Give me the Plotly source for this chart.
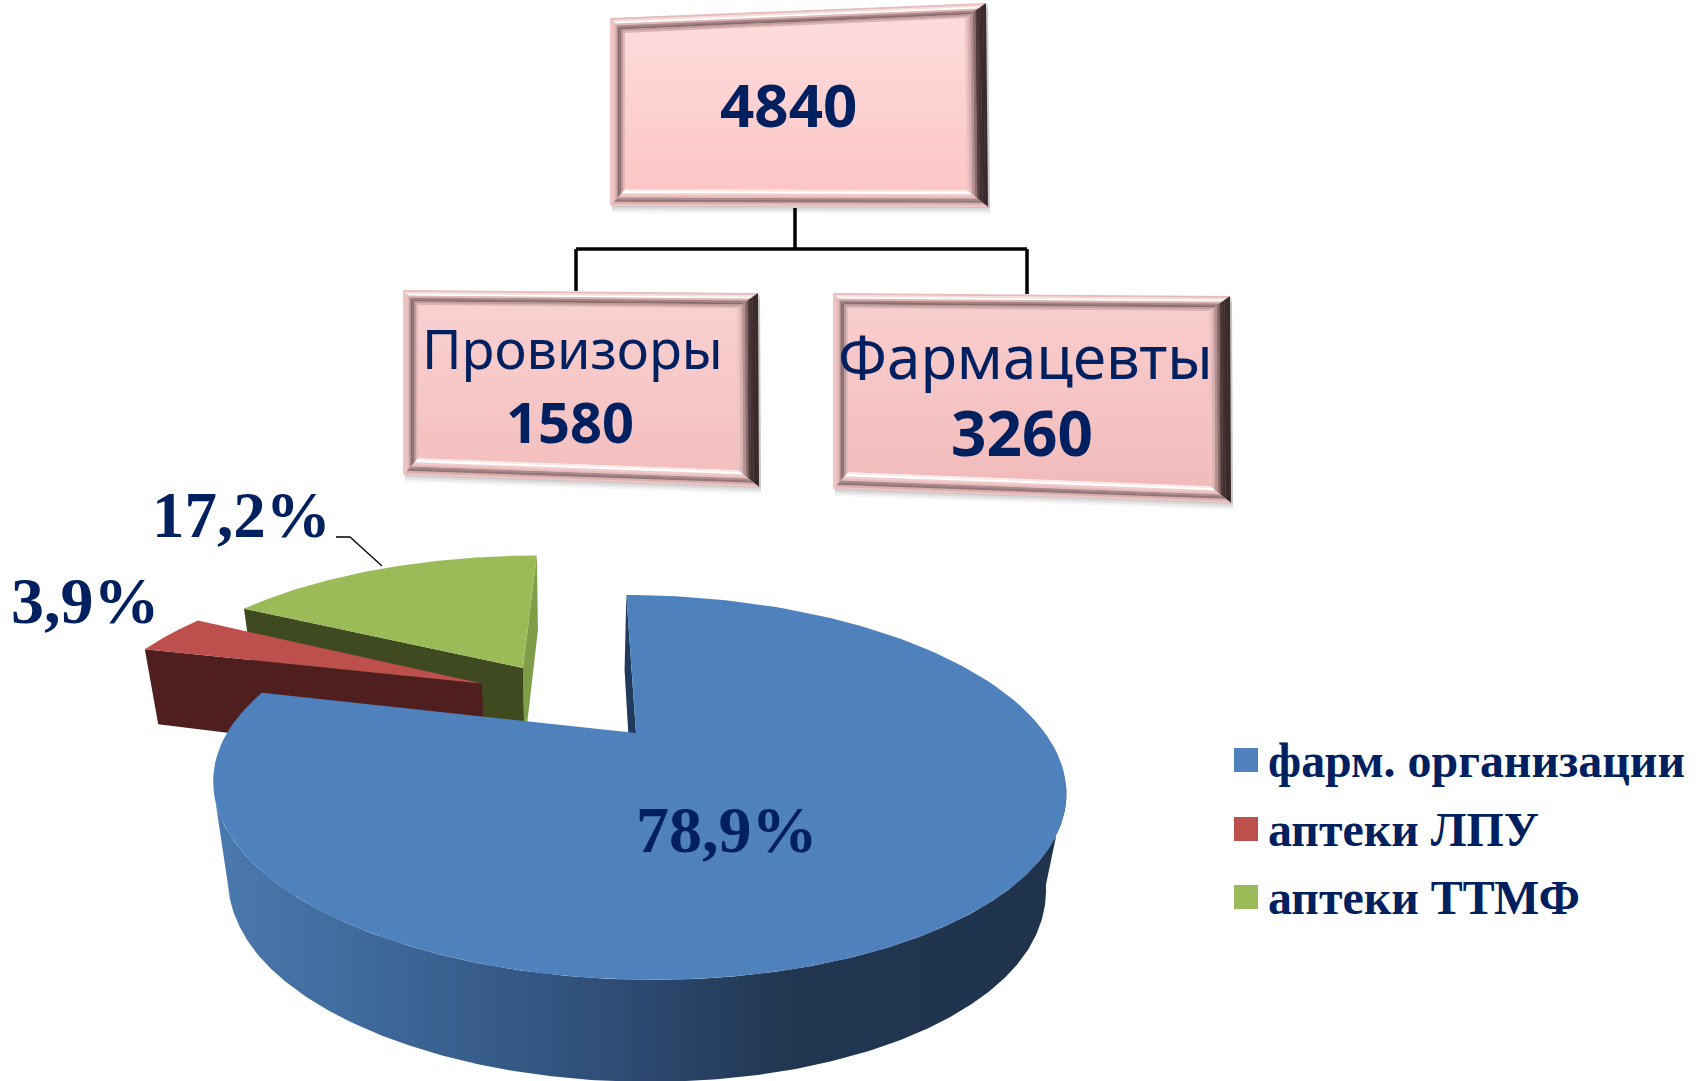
import numpy as np
import plotly.graph_objects as go

# ---------- data ----------
categories = ["фарм. организации", "аптеки ЛПУ", "аптеки ТТМФ"]
shares = [78.9, 3.9, 17.2]
share_labels = ["78,9%", "3,9%", "17,2%"]
total_label = "4840"
group_names = ["Провизоры", "Фармацевты"]
group_values = ["1580", "3260"]

# ---------- style ----------
W, H = 1703, 1081
NAVY = "#002060"
TOP = ["#4f81bd", "#bd4f4c", "#9bbb59"]
FACE_START = ["#1f3a5c", None, "#7f9c48"]
FACE_END = [None, "#4f1f1f", "#404a21"]
OFFSET = [(0.0, 0.0), (-0.40, 0.304), (-0.296, 0.41)]
RADIUS = [1.0, 1.0, 0.99]
X0, Y0, A, B, P, SK = 636.0, 733.0, 409.0, 177.0, 0.283, 0.07
XV = 570.0
LEGEND_Y = [760, 829, 897]


def project(u, v):
    u, v = np.asarray(u, float), np.asarray(v, float)
    w = 1 / (1 + P * v)
    y = Y0 - B * v * w
    return X0 + A * u * w + SK * (y - Y0), y


def drop(x, y):
    d = np.interp(y, [649, 790, 850, 978], [75, 98, 101, 102])
    return x + (XV - x) * 0.00042 * d, y + d


def poly(x, y, color, **kw):
    return go.Scatter(x=list(x), y=list(y), mode="lines", fill="toself", fillcolor=color,
                      line=dict(width=0), hoverinfo="skip", showlegend=False, **kw)


fig = go.Figure()

# ---------- boxes ----------
BOXES = [
    ((610, 18), (986, 3), (988, 207), (610, 206), "#fedcdc", "#fcc6c6"),
    ((403, 290), (758, 293), (759, 487), (403, 475), "#f9d0d0", "#f4bfbf"),
    ((833, 293), (1230, 296), (1231, 503), (833, 489), "#f9cdcd", "#f2bbbb"),
]
BEVEL = 15
SIDE_STOPS = {
    "top": ["#e6bcbc", "#f6dede", "#ffffff", "#e0b8b8", "#a98484", "#8a6a6a", "#c09a9a", "#dcb2b2"],
    "right": ["#3a2a2b", "#3a2a2b", "#433132", "#4f3b3c", "#8b6c6c", "#b59090", "#dab0b0", "#ecc2c2"],
    "bottom": ["#eec4c4", "#d9b0b0", "#95757a", "#a98888", "#e8bcbc", "#f2cccc", "#ffffff", "#ffeaea"],
    "left": ["#efc5c5", "#efc5c5", "#e6bcbc", "#d0a8a8", "#8a6a6a", "#8f7070", "#c09a9a", "#e0b8b8"],
}
shapes = []


def path(pts):
    return "M " + " L ".join(f"{a:.1f},{b:.1f}" for a, b in pts) + " Z"


for tl, tr, br, bl, c0, c1 in BOXES:
    corners = np.array([tl, tr, br, bl], float)
    inset = np.array([[BEVEL, BEVEL], [-BEVEL - 6, BEVEL], [-BEVEL - 6, -BEVEL - 2], [BEVEL, -BEVEL - 2]], float)
    for off, alpha in ((9, 0.05), (7, 0.07), (5, 0.09), (3, 0.12)):
        shapes.append(dict(type="path", path=path(corners + np.array([2, off - 2])), xref="x", yref="y",
                           fillcolor=f"rgba(70,70,70,{alpha})", line_width=0, layer="below"))
    for i, side in enumerate(("top", "right", "bottom", "left")):
        a, b = i, (i + 1) % 4
        stops = SIDE_STOPS[side]
        for k, col in enumerate(stops):
            t0, t1 = k / len(stops), (k + 1.15) / len(stops)
            pts = [corners[a] + inset[a] * t0, corners[b] + inset[b] * t0,
                   corners[b] + inset[b] * t1, corners[a] + inset[a] * t1]
            shapes.append(dict(type="path", path=path(pts), xref="x", yref="y",
                               fillcolor=col, line_width=0, layer="below"))
    inner = corners + inset
    fig.add_trace(go.Scatter(x=list(inner[:, 0]) + [inner[0, 0]], y=list(inner[:, 1]) + [inner[0, 1]],
                             mode="lines", fill="toself", line=dict(width=0), hoverinfo="skip", showlegend=False,
                             fillgradient=dict(type="vertical", colorscale=[[0, c1], [1, c0]])))

# connectors
for (xa, ya), (xb, yb) in [((795, 208), (795, 249)), ((576, 249), (1027, 249)),
                           ((576, 249), (576, 291)), ((1027, 249), (1027, 294))]:
    shapes.append(dict(type="line", x0=xa, y0=ya, x1=xb, y1=yb, xref="x", yref="y",
                       line=dict(color="#000000", width=3.5), layer="below"))

# ---------- pie ----------
edges = np.cumsum([0] + shares) / sum(shares) * 2 * np.pi


def rim(i, n=160):
    th = np.linspace(edges[i], edges[i + 1], n)
    du, dv = OFFSET[i]
    r = RADIUS[i]
    return project(r * np.sin(th) + du, r * np.cos(th) + dv)


def face(i, theta, color):
    du, dv = OFFSET[i]
    r = RADIUS[i]
    ax, ay = project(du, dv)
    rx, ry = project(r * np.sin(theta) + du, r * np.cos(theta) + dv)
    xs, ys = np.array([float(ax), float(rx)]), np.array([float(ay), float(ry)])
    bx, by = drop(xs, ys)
    return poly([xs[0], xs[1], bx[1], bx[0], xs[0]], [ys[0], ys[1], by[1], by[0], ys[0]], color)


for i in (2, 1, 0):
    if FACE_START[i]:
        fig.add_trace(face(i, edges[i], FACE_START[i]) if i == 0 else face(i, edges[i + 1], FACE_START[i]))
    if FACE_END[i]:
        fig.add_trace(face(i, edges[i], FACE_END[i]))
    if i == 0:
        # visible outer wall: from the right-hand to the left-hand silhouette point of the rim
        side = np.arccos(-P)
        th = np.linspace(side, 2 * np.pi - side, 300)
        rx, ry = project(np.sin(th), np.cos(th))
        bx, by = drop(rx, ry)
        sx, sy = list(rx) + list(bx[::-1]) + [rx[0]], list(ry) + list(by[::-1]) + [ry[0]]
        fig.add_trace(go.Scatter(
            x=sx, y=sy, mode="lines", fill="toself", line=dict(width=0), hoverinfo="skip", showlegend=False,
            fillgradient=dict(type="horizontal", colorscale=[
                [0, "#4b7aae"], [0.15, "#406c9e"], [0.44, "#30507a"], [0.68, "#213650"], [1, "#1f334d"]])))
    x, y = rim(i)
    ax, ay = project(*OFFSET[i])
    fig.add_trace(poly(np.r_[float(ax), x, float(ax)], np.r_[float(ay), y, float(ay)], TOP[i]))

# ---------- text ----------
annotations = []


def text(x, y, s, size, family, bold=False, anchor="center"):
    annotations.append(dict(x=x, y=y, xref="x", yref="y", text=f"<b>{s}</b>" if bold else s, showarrow=False,
                            font=dict(family=family, size=size, color=NAVY), xanchor=anchor, yanchor="middle"))


BOX_FONT = "Noto Sans"
text(788, 104, total_label, 60, BOX_FONT, True)
text(572, 348, group_names[0], 54, BOX_FONT)
text(570, 421, group_values[0], 56, BOX_FONT, True)
text(1025, 356, group_names[1], 60, BOX_FONT)
text(1022, 432, group_values[1], 62, BOX_FONT, True)
SERIF = "Liberation Serif"
text(727, 829, share_labels[0], 66, SERIF, True)
text(85, 600, share_labels[1], 66, SERIF, True)
text(241, 515, share_labels[2], 65, SERIF, True)
fig.add_trace(go.Scatter(x=[336, 350, 382], y=[537, 537, 566], mode="lines", line=dict(color="#000000", width=1.3),
                         hoverinfo="skip", showlegend=False))

# legend
fig.add_trace(go.Scatter(x=[1246] * 3, y=LEGEND_Y, mode="markers", hoverinfo="skip", showlegend=False,
                         marker=dict(symbol="square", size=24, color=TOP, line=dict(width=0))))
for name, ly in zip(categories, LEGEND_Y):
    text(1266, ly, name, 47.9, SERIF, True, anchor="left")

fig.update_layout(
    width=W, height=H, margin=dict(l=0, r=0, t=0, b=0), paper_bgcolor="white", plot_bgcolor="white",
    xaxis=dict(range=[0, W], visible=False, fixedrange=True),
    yaxis=dict(range=[H, 0], visible=False, fixedrange=True),
    shapes=shapes, annotations=annotations, showlegend=False,
)
fig.write_html("out.html", config=dict(displayModeBar=False),
               post_script="document.body.style.margin='0';document.body.style.overflow='hidden';")
